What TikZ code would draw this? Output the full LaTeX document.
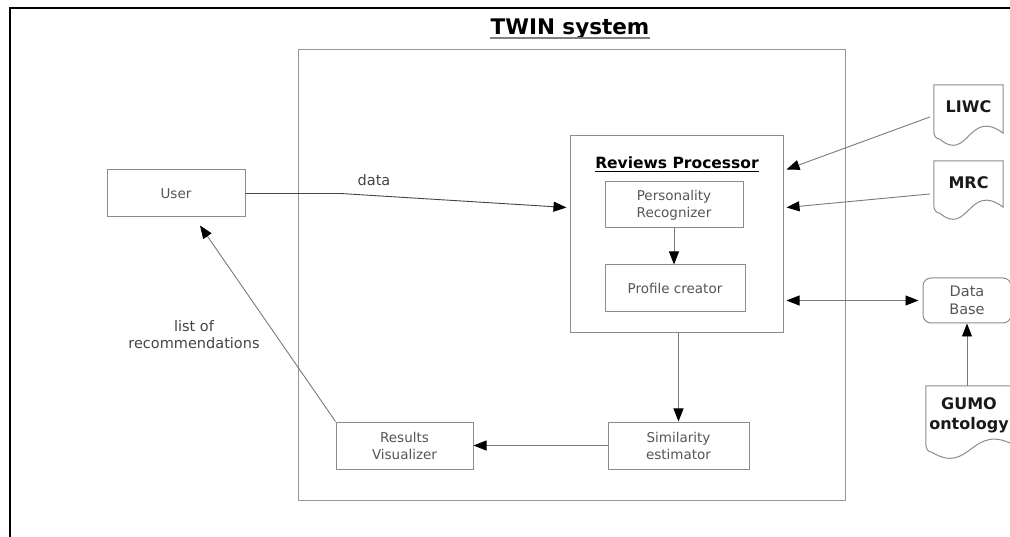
\documentclass[tikz,border=0pt]{standalone}
\usepackage{fontspec}
\setmainfont{DejaVu Sans}
\usetikzlibrary{arrows.meta,calc}
\definecolor{boxgray}{HTML}{8C8C8C}
\definecolor{txtgray}{HTML}{555555}
\definecolor{linegray}{HTML}{7A7A7A}
\definecolor{darkline}{HTML}{444444}

% outline of a "document" symbol laid over a plain node
\newcommand\docoutline[1]{%
  \draw[docline] ([yshift=6pt]#1.south west) -- (#1.north west) -- (#1.north east)
    -- ([yshift=4pt]#1.south east)
    .. controls ($(#1.south)+(0,-30)$) and ($(#1.south)+(0,26)$) .. ([xshift=6pt,yshift=-2pt]#1.south west)
    to[out=180,in=-90] ([yshift=6pt]#1.south west);}

\begin{document}
\begin{tikzpicture}[x=1pt,y=-1pt,
  procbox/.style={draw=boxgray,line width=1pt,inner sep=0pt,align=center,
    text=txtgray,font=\fontsize{13.5}{17}\selectfont},
  docarea/.style={inner sep=0pt},
  docline/.style={draw=boxgray,line width=1pt},
  doclabel/.style={inner sep=0pt,align=center,text=black!90,
    font=\bfseries\fontsize{16}{20}\selectfont},
  edgelabel/.style={inner sep=0pt,align=center,text=darkline,
    font=\fontsize{14.5}{17}\selectfont},
  tipshape/.style={},
  arr/.style={draw=linegray,line width=0.9pt,
    -{Triangle[length=13pt,width=10pt,color=black]}},
  darr/.style={draw=linegray,line width=0.9pt,
    {Triangle[length=13pt,width=10pt,color=black]}-{Triangle[length=13pt,width=10pt,color=black]}}]
\useasboundingbox (0,0) rectangle (1010,537);

% outer frame edges
\draw[line width=2.6pt,black] (1012,8) -- (10,8) -- (10,540);

% title
\node[inner sep=0pt,font=\bfseries\fontsize{21.5}{24}\selectfont] (title) at (570,29) {TWIN system};
\draw[gray,line width=1.8pt] ([yshift=-3.5pt]title.base west) -- ([yshift=-3.5pt]title.base east);

% system boundary
\node[draw=boxgray!90,line width=1pt,minimum width=547pt,minimum height=450pt,inner sep=0pt] (sys) at (571.5,275) {};

% reviews processor with its parts
\node[draw=boxgray,line width=1pt,minimum width=213pt,minimum height=197pt,inner sep=0pt] (rp) at (676.5,234.5) {};
\node[inner sep=0pt,font=\bfseries\fontsize{15.5}{18}\selectfont] (rptitle) at (677,163) {Reviews Processor};
\draw[black,line width=1.2pt] ([yshift=-3pt]rptitle.base west) -- ([yshift=-3pt]rptitle.base east);
\node[procbox,minimum width=138pt,minimum height=46pt] (pr) at (674,205) {Personality\\Recognizer};
\node[procbox,minimum width=140pt,minimum height=47pt] (pc) at (675,288.5) {Profile creator};

% other processing boxes
\node[procbox,minimum width=138pt,minimum height=47pt] (user) at (176,193.5) {User};
\node[procbox,minimum width=137pt,minimum height=47pt] (rv) at (404.5,445.5) {Results\\Visualizer};
\node[procbox,minimum width=141pt,minimum height=47pt] (se) at (678.5,445.5) {Similarity\\estimator};

% external resources
\node[docarea,minimum width=69pt,minimum height=52pt] (liwc) at (968.5,111) {};
\docoutline{liwc}
\node[doclabel] (liwct) at (968.5,107) {LIWC};
\node[docarea,minimum width=69pt,minimum height=50pt] (mrc) at (968.5,186) {};
\docoutline{mrc}
\node[doclabel] (mrct) at (968.5,183) {MRC};
\node[docarea,minimum width=90pt,minimum height=64pt] (gumo) at (971,418) {};
\docoutline{gumo}
\node[doclabel] (gumot) at (969,415) {GUMO\\ontology};
\node[draw=boxgray,line width=1pt,rounded corners=8pt,minimum width=88pt,minimum height=45pt,
  inner sep=0pt,align=center,text=txtgray,font=\fontsize{14.5}{18}\selectfont] (db) at (967,300.5) {Data\\Base};

% connectors
\draw[darkline,line width=0.9pt,-{Triangle[length=13pt,width=10pt,color=black]}]
  (user.east) -- ++(95,0) -- ($(rp.north west)+(-3,72)$);
\node[edgelabel] (datalbl) at (374,180) {data};
\draw[arr] ($(liwc.west)+(-4,6)$) -- ($(rp.north east)+(3,34)$);
\draw[arr] ($(mrc.west)+(-4,8)$) -- ($(rp.north east)+(3,72)$);
\draw[darr] ([xshift=3pt]rp.east |- db.west) -- ([xshift=-4pt]db.west);
\draw[arr] (gumo.north -| db.south) -- (db.south);
\draw[arr] (pr.south) -- (pr.south |- pc.north);
\draw[arr] (rp.south -| se.north) -- (se.north);
\draw[arr] (se.west) -- (se.west -| rv.east);
\draw[arr] (rv.north west) -- ($(user.south)+(24,8)$);
\node[edgelabel] (reclbl) at (194,335) {list of\\recommendations};
\end{tikzpicture}
\end{document}
